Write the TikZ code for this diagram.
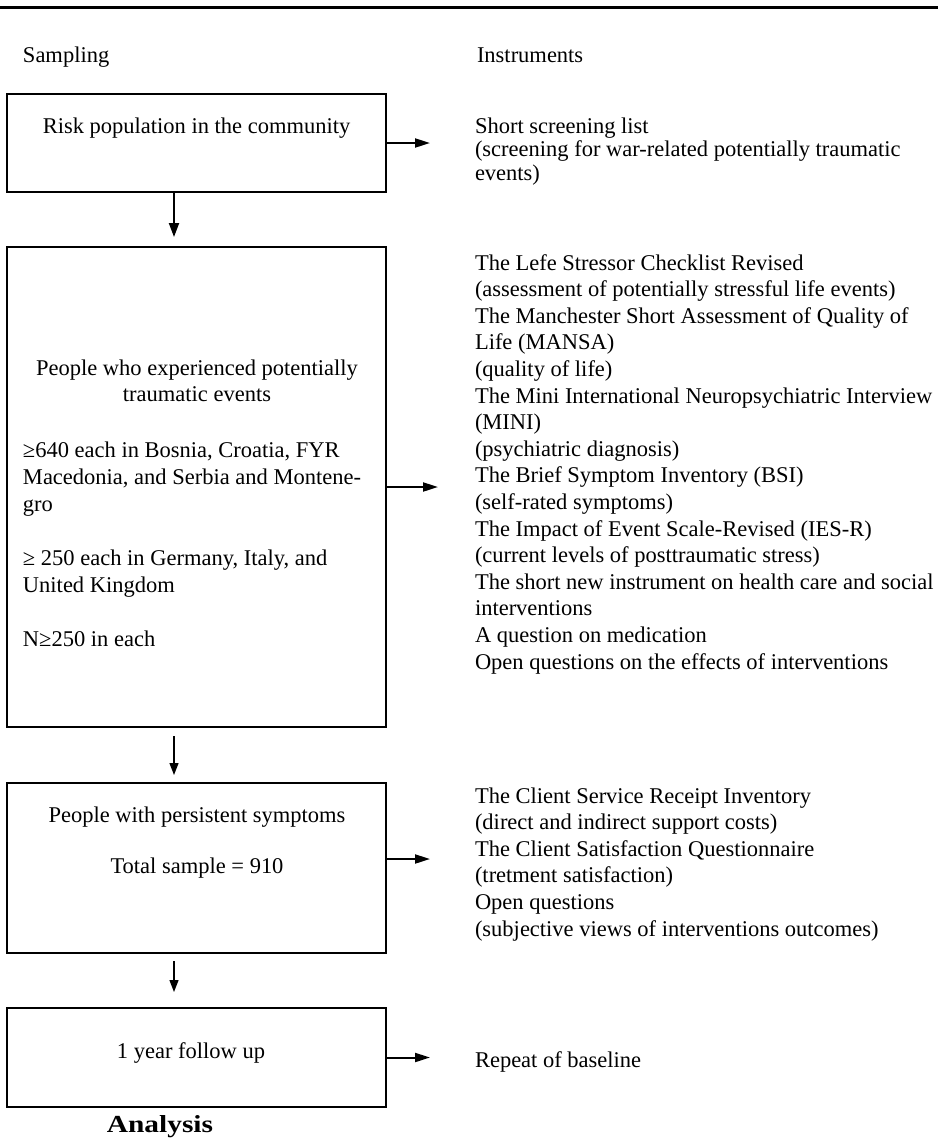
\documentclass[tikz,border=0pt]{standalone}
\usepackage{fontspec}
\setmainfont{Liberation Serif}
\usetikzlibrary{arrows.meta,calc}
\newcommand\fl{\rule{0pt}{20pt}}
\tikzset{
  stagebox/.style={draw, line width=2pt, minimum width=379pt, inner sep=0pt, outer sep=0pt},
  lab/.style={anchor=base west, inner sep=0pt, outer sep=0pt, font=\fontsize{22.5}{26.6}\selectfont},
  clab/.style={lab, anchor=base},
  blk/.style={anchor=north west, inner sep=0pt, outer sep=0pt, align=left},
  cblk/.style={anchor=north, inner sep=0pt, outer sep=0pt, align=center},
  rarr/.style={line width=2pt, -{Triangle[length=15pt,width=9pt]}},
  darr/.style={line width=1.3pt, -{Triangle[length=12pt,width=9pt]}},
  darrthick/.style={line width=2pt, -{Triangle[length=14pt,width=10pt]}}
}
\begin{document}
\begin{tikzpicture}[x=1pt,y=-1pt]
\useasboundingbox (0,0) rectangle (938,1141);
\draw[line width=3pt] (0,7.5) -- (938,7.5);

\coordinate (ax) at (174,0);
\coordinate (e1) at (430,0);
\coordinate (e2) at (438,0);

\node[lab] (hs) at (23,62) {Sampling};
\node[lab] (hi) at (477,62) {Instruments};

% box 1
\node[stagebox, minimum height=98pt] (b1) at (196.5,143) {};
\node[clab] (t1) at (196.5,133) {Risk population in the community};
\node[blk, font=\fontsize{22.5}{23.5}\selectfont] (r1) at (475,113)
  {\fl Short screening list\\(screening for war-related potentially traumatic\\events)};
\draw[rarr] (b1.east) -- (b1.east -| e1);

% box 2
\node[stagebox, minimum height=480pt] (b2) at (196.5,487) {};
\node[cblk, font=\fontsize{22.5}{26}\selectfont] (t2a) at (197,355)
  {\fl People who experienced potentially\\traumatic events};
\node[blk, font=\fontsize{22.5}{27}\selectfont] (t2b) at (23,437)
  {\fl ≥640 each in Bosnia, Croatia, FYR\\Macedonia, and Serbia and Montene-\\gro\\[27pt]≥ 250 each in Germany, Italy, and\\United Kingdom\\[27pt]N≥250 in each};
\node[blk, font=\fontsize{22.5}{26.6}\selectfont] (r2) at (475,250)
  {\fl The Lefe Stressor Checklist Revised\\
   (assessment of potentially stressful life events)\\
   The Manchester Short Assessment of Quality of\\
   Life (MANSA)\\
   (quality of life)\\
   The Mini International Neuropsychiatric Interview\\
   (MINI)\\
   (psychiatric diagnosis)\\
   The Brief Symptom Inventory (BSI)\\
   (self-rated symptoms)\\
   The Impact of Event Scale-Revised (IES-R)\\
   (current levels of posttraumatic stress)\\
   The short new instrument on health care and social\\
   interventions\\
   A question on medication\\
   Open questions on the effects of interventions};
\draw[rarr] (b2.east) -- (b2.east -| e2);

% box 3
\node[stagebox, minimum height=170pt] (b3) at (196.5,868) {};
\node[cblk, font=\fontsize{22.5}{26}\selectfont] (t3) at (197,802)
  {\fl People with persistent symptoms\\[25pt]Total sample = 910};
\node[blk, font=\fontsize{22.5}{26.6}\selectfont] (r3) at (475,783)
  {\fl The Client Service Receipt Inventory\\
   (direct and indirect support costs)\\
   The Client Satisfaction Questionnaire\\
   (tretment satisfaction)\\
   Open questions\\
   (subjective views of interventions outcomes)};
\draw[rarr] ($(b3.east)+(0,-9)$) -- ($(b3.east -| e1)+(0,-9)$);

% box 4
\node[stagebox, minimum height=99pt] (b4) at (196.5,1057.5) {};
\node[clab] (t4) at (191,1058) {1 year follow up};
\node[lab] (r4) at (475,1067) {Repeat of baseline};
\draw[rarr] (b4.east) -- (b4.east -| e1);

\node[anchor=base, inner sep=0pt] (an) at (160,1132)
  {\scalebox{1.2}[1]{\fontsize{24.5}{28}\selectfont\bfseries Analysis}};

% vertical arrows
\draw[darrthick] (b1.south -| ax) -- ($(b2.north -| ax)+(0,-10)$);
\draw[darr] ($(b2.south -| ax)+(0,9)$) -- ($(b3.north -| ax)+(0,-8)$);
\draw[darr] ($(b3.south -| ax)+(0,8)$) -- ($(b4.north -| ax)+(0,-16)$);
\end{tikzpicture}
\end{document}
